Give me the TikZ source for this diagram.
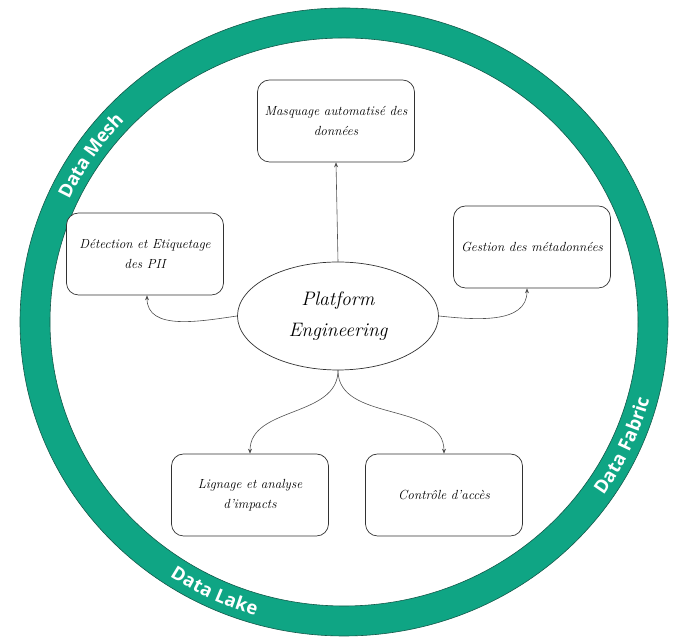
\documentclass[tikz,border=0pt]{standalone}
\usepackage{fontspec}
\newfontfamily\ringfont{Open Sans}
\usetikzlibrary{arrows.meta,shapes.geometric,decorations.text}

\begin{document}
\begin{tikzpicture}[x=1pt,y=1pt,line cap=round,line join=round,
  box/.style={draw=boxline,line width=0.7pt,rounded corners=12pt,fill=white,
    minimum width=157pt,minimum height=82pt,align=center,
    font=\fontsize{13.2}{20}\selectfont\itshape},
  hub/.style={ellipse,draw=boxline,line width=0.7pt,fill=white,
    minimum width=201pt,minimum height=108pt,inner sep=0pt,align=center,
    font=\fontsize{19.5}{31}\selectfont\itshape},
  link/.style={-{Stealth[length=5pt,width=4pt]},line width=0.6pt,draw=linkc},
  ringtext/.style={decorate,decoration={text along path,text align=center,
    raise=-6.5pt,text color=white}}]

  \definecolor{ringc}{RGB}{15,165,132}
  \definecolor{ringline}{RGB}{20,90,75}
  \definecolor{boxline}{RGB}{50,50,50}
  \definecolor{linkc}{RGB}{80,80,80}

  \useasboundingbox (0,0) rectangle (689,644);

  % ---- outer ring ----
  \fill[ringc,draw=ringline,line width=0.6pt,even odd rule]
    (344,322) ellipse [x radius=324pt,y radius=314pt]
    (344,322) ellipse [x radius=294pt,y radius=284pt];
  \path[ringtext,decoration={text={|\ringfont\bfseries\fontsize{18.5}{20}\selectfont|Data Mesh}}]
    (344,322) ++(170:309pt and 299pt) arc[start angle=170,end angle=122,x radius=309pt,y radius=299pt];
  \path[ringtext,decoration={text={|\ringfont\bfseries\fontsize{18.5}{20}\selectfont|Data Fabric}}]
    (344,322) ++(-49:309pt and 299pt) arc[start angle=-49,end angle=0,x radius=309pt,y radius=299pt];
  \path[ringtext,decoration={text={|\ringfont\bfseries\fontsize{18.5}{20}\selectfont|Data Lake}}]
    (344,322) ++(-138:309pt and 299pt) arc[start angle=-138,end angle=-92,x radius=309pt,y radius=299pt];

  % ---- centre and boxes ----
  \node[hub] (plat) at (338,328) {Platform\\Engineering};
  \node[box] (mask) at (336,523) {Masquage automatisé des\\données};
  \node[box] (det) at (145,390) {Détection et Etiquetage\\des PII};
  \node[box] (gest) at (532,397) {Gestion des métadonnées};
  \node[box] (lig) at (250,149) {Lignage et analyse\\d'impacts};
  \node[box] (ctl) at (444,149) {Contrôle d'accès};

  % ---- connectors ----
  \draw[link] (plat.north) -- (mask.south);
  \draw[link] (plat.west) to[out=188,in=-90] ([xshift=2pt]det.south);
  \draw[link] (plat.east) to[out=-6,in=-90] ([xshift=-5pt]gest.south);
  \draw[link] (plat.south) to[out=-90,in=90] (lig.north);
  \draw[link] (plat.south) to[out=-90,in=90] (ctl.north);
\end{tikzpicture}
\end{document}
